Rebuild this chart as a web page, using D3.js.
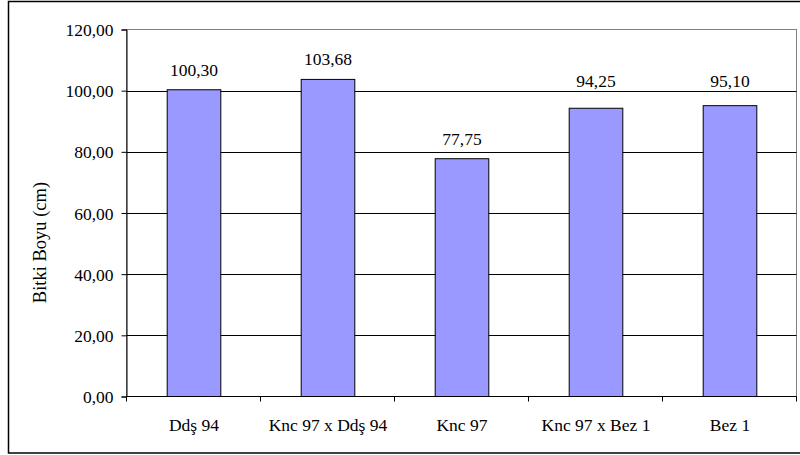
<!DOCTYPE html>
<html>
<head>
<meta charset="utf-8">
<script src="https://cdn.jsdelivr.net/npm/d3@7"></script>
<style>
  html, body { margin: 0; padding: 0; background: #fff; }
  svg { display: block; }
  text { font-family: "Liberation Serif", "Times New Roman", serif; fill: #000; }
</style>
</head>
<body>
<svg id="chart" width="800" height="455"></svg>
<script>
// Plant height per genotype
const categories = ["Ddş 94", "Knc 97 x Ddş 94", "Knc 97", "Knc 97 x Bez 1", "Bez 1"];
const heights = [100.30, 103.68, 77.75, 94.25, 95.10];
const yTicks = [0, 20, 40, 60, 80, 100, 120];
const yTitle = "Bitki Boyu (cm)";

const fmt = v => d3.format(".2f")(v).replace(".", ",");
const FS = 17.5;

const svg = d3.select("#chart");
const plot = { left: 126.5, right: 796.5, top: 29.5, bottom: 396.5 };

// Outer chart frame
svg.append("rect")
  .attr("x", 8.5).attr("y", 1.5)
  .attr("width", 800).attr("height", 451.5)
  .attr("fill", "#fff").attr("stroke", "#000").attr("stroke-width", 1.5);

const x = d3.scaleBand().domain(categories).range([plot.left, plot.right]).paddingInner(0).paddingOuter(0);
const y = d3.scaleLinear().domain([0, 120]).range([plot.bottom, plot.top]);

// Plot area border (grey)
svg.append("rect")
  .attr("x", plot.left).attr("y", plot.top)
  .attr("width", plot.right - plot.left).attr("height", plot.bottom - plot.top)
  .attr("fill", "none").attr("stroke", "#808080").attr("stroke-width", 1);

// Horizontal gridlines
const gridVals = yTicks.filter(t => t > 0 && t < 120);
const gridY = d => Math.round(y(d)) + 0.5;
svg.append("g").selectAll("line")
  .data(gridVals)
  .join("line")
  .attr("x1", plot.left).attr("x2", plot.right)
  .attr("y1", gridY).attr("y2", gridY)
  .attr("stroke", "#000").attr("stroke-width", 1);

// Bars
const barW = x.bandwidth() * 0.4;
const rows = categories.map((c, i) => ({ c, v: heights[i] }));
svg.append("g").selectAll("rect")
  .data(rows)
  .join("rect")
  .attr("x", d => x(d.c) + (x.bandwidth() - barW) / 2 + 0.5)
  .attr("y", d => y(d.v))
  .attr("width", barW)
  .attr("height", d => y(0) - y(d.v))
  .attr("fill", "#9999FF")
  .attr("stroke", "#000").attr("stroke-width", 1);

// Value labels: sit above the bar, lifted clear of any gridline they would cross
const capH = FS * 0.68;
function labelBaseline(v) {
  let b = y(v) - 14;
  for (const g of gridVals) {
    const gy = gridY(g);
    if (b - capH <= gy + 1 && b + 3 >= gy) b = gy - 4.5;
  }
  return b;
}
svg.append("g").selectAll("text")
  .data(rows)
  .join("text")
  .attr("x", d => x(d.c) + x.bandwidth() / 2 + 0.5)
  .attr("y", d => labelBaseline(d.v))
  .attr("text-anchor", "middle")
  .attr("font-size", FS)
  .text(d => fmt(d.v));

// Y axis
const yAxis = d3.axisLeft(y).tickValues(yTicks).tickSize(5).tickPadding(8).tickFormat(fmt);
const gy = svg.append("g").attr("transform", `translate(${plot.left},0)`).call(yAxis)
  .attr("font-family", null).attr("font-size", null);
gy.select(".domain").attr("stroke", "#000");
gy.selectAll(".tick line").attr("stroke", "#000");
gy.selectAll(".tick text").attr("font-size", FS).attr("fill", "#000").attr("dy", "0.35em");

// X axis with ticks at category boundaries
const gx = svg.append("g").attr("transform", `translate(0,${plot.bottom})`);
gx.append("line").attr("x1", plot.left).attr("x2", plot.right).attr("y1", 0).attr("y2", 0).attr("stroke", "#000");
gx.selectAll("line.tk")
  .data(categories.map(c => x(c)).concat([plot.right]))
  .join("line").attr("class", "tk")
  .attr("x1", d => d).attr("x2", d => d).attr("y1", 0).attr("y2", 5)
  .attr("stroke", "#000");
gx.selectAll("text")
  .data(categories)
  .join("text")
  .attr("x", d => x(d) + x.bandwidth() / 2 + 0.5)
  .attr("y", 34)
  .attr("text-anchor", "middle")
  .attr("font-size", FS)
  .text(d => d);

// Y axis title, centred on the chart frame height
svg.append("text")
  .attr("transform", `translate(46,242.5) rotate(-90)`)
  .attr("text-anchor", "middle")
  .attr("font-size", 18.5)
  .text(yTitle);
</script>
</body>
</html>
